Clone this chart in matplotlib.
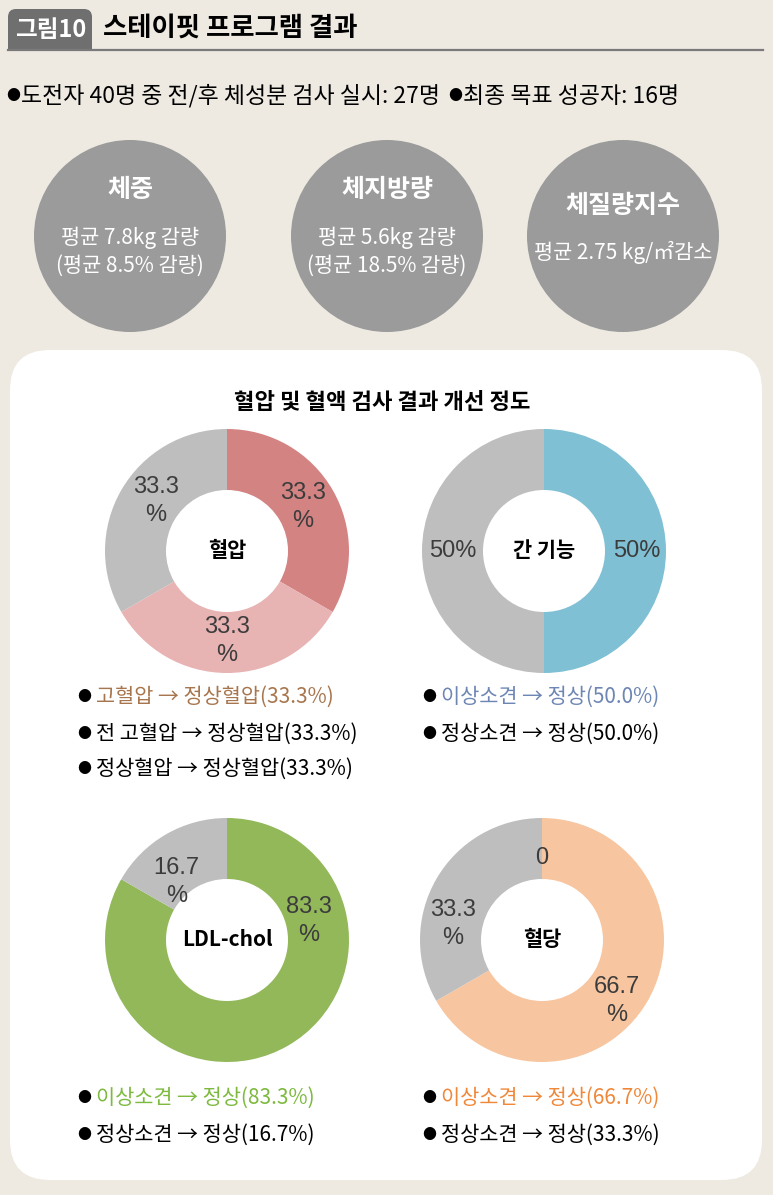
import matplotlib
matplotlib.use('Agg')
import matplotlib.pyplot as plt
from matplotlib.patches import FancyBboxPatch, Circle, Rectangle
import numpy as np

plt.rcParams['font.family'] = ['Noto Sans CJK KR', 'DejaVu Sans']

W, H = 773, 1195

# ---- data ----
fig_tag = '그림10'
fig_title = '스테이핏 프로그램 결과'
summary = ['도전자 40명 중 전/후 체성분 검사 실시: 27명', '최종 목표 성공자: 16명']

circle_heads = ['체중', '체지방량', '체질량지수']
circle_lines = [['평균 7.8kg 감량', '(평균 8.5% 감량)'],
                ['평균 5.6kg 감량', '(평균 18.5% 감량)'],
                ['평균 2.75 kg/㎡감소']]

panel_title = '혈압 및 혈액 검사 결과 개선 정도'

bp_names = ['고혈압 → 정상혈압', '전 고혈압 → 정상혈압', '정상혈압 → 정상혈압']
bp_vals = [33.3, 33.3, 33.3]
liver_names = ['이상소견 → 정상', '정상소견 → 정상']
liver_vals = [50.0, 50.0]
ldl_names = ['이상소견 → 정상', '정상소견 → 정상']
ldl_vals = [83.3, 16.7]
glu_names = ['이상소견 → 정상', '정상소견 → 정상', '']
glu_vals = [66.7, 33.3, 0]

# ---- layout / style ----
bg = '#EEEAE2'
circ_col = '#9A9B9A'
grey = '#BEBEBE'
charts = [
    dict(center='혈압', vals=bp_vals, names=bp_names,
         colors=['#D48383', '#E8B3B3', grey], c=(227, 551),
         lab=[(30, 0.72), (-90, 0.74), (145, 0.71)],
         leg_col=['#A8764E', 'black', 'black'], leg_x=(84, 96), leg_y=697),
    dict(center='간 기능', vals=liver_vals, names=liver_names,
         colors=['#80C0D4', grey], c=(544, 551),
         lab=[(0, 0.76), (180, 0.75)],
         leg_col=['#6E86B4', 'black'], leg_x=(429, 441), leg_y=697),
    dict(center='LDL-chol', vals=ldl_vals, names=ldl_names,
         colors=['#92B85A', grey], c=(227, 940),
         lab=[(13, 0.69), (131, 0.63)],
         leg_col=['#7DBA3F', 'black'], leg_x=(84, 96), leg_y=1098),
    dict(center='혈당', vals=glu_vals, names=glu_names,
         colors=['#F7C6A0', grey, grey], c=(542, 940),
         lab=[(-39, 0.79), (170, 0.74), (90, 0.67)],
         leg_col=['#F0883A', 'black'], leg_x=(429, 441), leg_y=1098),
]
R = 122

fig = plt.figure(figsize=(W / 100, H / 100), dpi=100, facecolor=bg)
bgax = fig.add_axes([0, 0, 1, 1])
bgax.set_xlim(0, W)
bgax.set_ylim(H, 0)
bgax.axis('off')

# header
bgax.add_patch(FancyBboxPatch((8, 9), 84, 40, boxstyle='round,pad=0,rounding_size=8',
                              fc='#6F6F6F', ec='none'))
bgax.add_patch(Rectangle((8, 30), 84, 19, fc='#6F6F6F', ec='none'))
bgax.plot([8, 763], [49.5, 49.5], color='#7A7A7A', lw=1.6)
bgax.text(51, 30, fig_tag, color='white', fontsize=17, fontweight='bold',
          ha='center', va='center')
bgax.text(103, 28, fig_title, color='black', fontsize=19, fontweight='bold',
          ha='left', va='center')
for bx, s in zip([13, 455], summary):
    bgax.text(bx, 96, '●', fontsize=10, ha='center', va='center', color='black')
    bgax.text(bx + 8, 96, s, color='black', fontsize=16.5, ha='left', va='center')

# grey circles
for i, (cx, cy) in enumerate([(130, 236), (387, 236), (623, 236)]):
    bgax.add_patch(Circle((cx, cy), 96, fc=circ_col, ec='none'))
    lines = circle_lines[i]
    if len(lines) == 2:
        bgax.text(cx, 190, circle_heads[i], color='white', fontsize=18,
                  fontweight='bold', ha='center', va='center')
        bgax.text(cx, 238, lines[0], color='white', fontsize=15, ha='center', va='center')
        bgax.text(cx, 266, lines[1], color='white', fontsize=15, ha='center', va='center')
    else:
        bgax.text(cx, 206, circle_heads[i], color='white', fontsize=18,
                  fontweight='bold', ha='center', va='center')
        bgax.text(cx, 252, lines[0], color='white', fontsize=15, ha='center', va='center')

# white panel
bgax.add_patch(FancyBboxPatch((10, 350), 752, 830, boxstyle='round,pad=0,rounding_size=40',
                              fc='white', ec='none'))
bgax.text(382, 402, panel_title, color='black', fontsize=16, fontweight='bold',
          ha='center', va='center')

for ch in charts:
    cx, cy = ch['c']
    ax = fig.add_axes([(cx - R) / W, 1 - (cy + R) / H, 2 * R / W, 2 * R / H])
    ax.pie(ch['vals'], colors=ch['colors'], startangle=90, counterclock=False,
           wedgeprops=dict(width=0.5, linewidth=0))
    ax.set_xlim(-1, 1)
    ax.set_ylim(-1, 1)
    ax.set_aspect('equal')
    ax.axis('off')
    ax.text(0, 0, ch['center'], fontsize=15, fontweight='bold', ha='center',
            va='center', color='black')
    for v, (ang, r) in zip(ch['vals'], ch['lab']):
        x, y = r * np.cos(np.radians(ang)), r * np.sin(np.radians(ang))
        if v == 0:
            s = '0'
        elif v == 50:
            s = '50%'
        else:
            s = f'{v:.1f}\n%'
        ax.text(x, y, s, fontsize=17, ha='center', va='center', color='#3C3C3C',
                family=['Liberation Sans', 'DejaVu Sans'], linespacing=1.35)
    # legend lines
    bx, tx = ch['leg_x']
    for j, (nm, v) in enumerate(zip(ch['names'], ch['vals'])):
        if not nm:
            continue
        y = ch['leg_y'] + j * 37 - (j > 1) * 2
        bgax.text(bx, y, '●', fontsize=10, ha='center', va='center', color='black')
        bgax.text(tx, y, f'{nm}({v:.1f}%)', fontsize=15, ha='left', va='center',
                  color=ch['leg_col'][j])

fig.savefig('out.png', dpi=100, facecolor=bg)
